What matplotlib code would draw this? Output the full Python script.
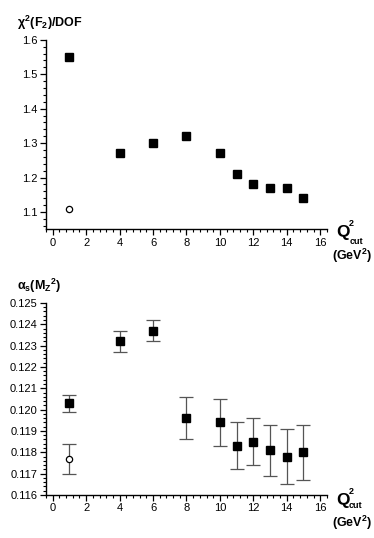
import matplotlib
matplotlib.use("Agg")
import matplotlib.pyplot as plt
from matplotlib.ticker import MultipleLocator, FormatStrFormatter

plt.rcParams['font.family'] = ['Liberation Sans', 'DejaVu Sans']
plt.rcParams['mathtext.fontset'] = 'custom'
plt.rcParams['mathtext.rm'] = 'Liberation Sans:bold'
plt.rcParams['mathtext.it'] = 'Liberation Sans:bold'
plt.rcParams['mathtext.bf'] = 'Liberation Sans:bold'

# Top panel: chi2/DOF
q2_filled = [1, 4, 6, 8, 10, 11, 12, 13, 14, 15]
chi2_filled = [1.55, 1.27, 1.30, 1.32, 1.27, 1.21, 1.18, 1.17, 1.17, 1.14]
q2_open = [1]
chi2_open = [1.11]

# Bottom panel: alpha_s
alpha_filled = [0.1203, 0.1232, 0.1237, 0.1196, 0.1194, 0.1183, 0.1185, 0.1181, 0.1178, 0.1180]
alpha_err = [0.0004, 0.0005, 0.0005, 0.0010, 0.0011, 0.0011, 0.0011, 0.0012, 0.0013, 0.0013]
alpha_open = [0.1177]
alpha_open_err = [0.0007]

fig = plt.figure(figsize=(3.74, 5.38), dpi=100)
ax1 = fig.add_axes([0.123, 0.574, 0.751, 0.352])
ax2 = fig.add_axes([0.123, 0.080, 0.751, 0.357])

for ax in (ax1, ax2):
    ax.spines['top'].set_visible(False)
    ax.spines['right'].set_visible(False)
    ax.set_xlim(-0.4, 16.4)
    ax.xaxis.set_major_locator(MultipleLocator(2))
    ax.xaxis.set_minor_locator(MultipleLocator(0.4))
    ax.tick_params(which='major', direction='out', length=4, width=0.9, labelsize=8, pad=2)
    ax.tick_params(which='minor', direction='out', length=2.2, width=0.8)
    for s in ('left', 'bottom'):
        ax.spines[s].set_linewidth(1.0)

ax1.set_ylim(1.05, 1.6)
ax1.yaxis.set_major_locator(MultipleLocator(0.1))
ax1.yaxis.set_minor_locator(MultipleLocator(0.02))
ax1.yaxis.set_major_formatter(FormatStrFormatter('%.1f'))
ax1.plot(q2_filled, chi2_filled, 's', color='black', markersize=5.5, linestyle='none')
ax1.plot(q2_open, chi2_open, 'o', mfc='white', mec='black', markersize=4.5, mew=0.9, linestyle='none')

ax2.set_ylim(0.116, 0.125)
ax2.yaxis.set_major_locator(MultipleLocator(0.001))
ax2.yaxis.set_minor_locator(MultipleLocator(0.0002))
ax2.yaxis.set_major_formatter(FormatStrFormatter('%.3f'))
ax2.errorbar(q2_filled, alpha_filled, yerr=alpha_err, fmt='s', color='black', markersize=5.5,
             ecolor='#555555', elinewidth=0.9, capsize=5, capthick=0.9)
ax2.errorbar(q2_open, alpha_open, yerr=alpha_open_err, fmt='o', mfc='white', mec='black',
             markersize=4.5, mew=0.9, ecolor='#555555', elinewidth=0.9, capsize=5, capthick=0.9)

# Axis titles
fig.text(17/374, 1 - 23/538, r'$\chi^2$(F$_2$)/DOF', fontsize=9, fontweight='bold', va='center', ha='left')
fig.text(17/374, 1 - 286/538, r'$\alpha_s$(M$_Z$$^2$)', fontsize=9, fontweight='bold', va='center', ha='left')

def fy(y):
    return 1 - y / 538

def fx(x):
    return x / 374

# x-axis titles (Q^2_cut and units), per panel positions
for qx, qy, sx, sy, cx, cy, gx, gy in ((336, 233, 349, 223, 350, 241, 352, 256),
                                      (336, 500, 349, 491, 349, 506, 352, 523)):
    fig.text(fx(qx), fy(qy), 'Q', fontsize=12.5, fontweight='bold', va='center', ha='left')
    fig.text(fx(sx), fy(sy), '2', fontsize=6.5, fontweight='bold', va='center', ha='left')
    fig.text(fx(cx), fy(cy), 'cut', fontsize=6.5, fontweight='bold', va='center', ha='left')
    fig.text(fx(gx), fy(gy), r'(GeV$^2$)', fontsize=9, fontweight='bold', va='center', ha='center')

fig.savefig('out.png', dpi=100)
